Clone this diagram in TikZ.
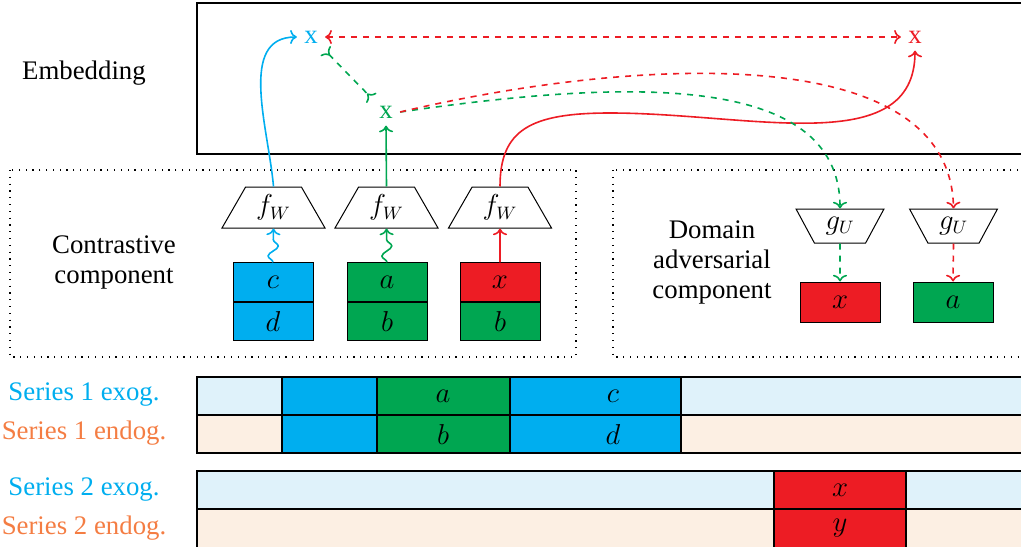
\documentclass[tikz,border=0pt]{standalone}
\usepackage{fontspec}
\setmainfont{Liberation Serif}
\newfontfamily\labelfont{Liberation Serif}
\usetikzlibrary{shapes.geometric,decorations.pathmorphing,arrows.meta}

\definecolor{cyanB}{HTML}{00AEEF}
\definecolor{greenB}{HTML}{00A651}
\definecolor{redB}{HTML}{ED1C24}
\definecolor{orangeT}{HTML}{F47D43}
\definecolor{exoBg}{HTML}{DFF2FA}
\definecolor{endoBg}{HTML}{FCEFE3}

\begin{document}
\begin{tikzpicture}[x=0.5pt, y=-0.5pt, >=To, thick,
  font=\labelfont\fontsize{13.4}{15}\selectfont,
  cellbox/.style={draw, line width=0.5pt, inner sep=0pt, minimum width=40pt, minimum height=19.25pt},
  encoder/.style={draw, line width=0.5pt, trapezium, trapezium left angle=60, trapezium right angle=60,
    trapezium stretches=true, minimum width=51.5pt, minimum height=20.5pt, inner sep=0pt},
  decoder/.style={encoder, shape border rotate=180, minimum width=44pt, minimum height=17pt},
  wavy/.style={decorate, decoration={snake, amplitude=2.5pt, segment length=10pt, post length=3pt}},
  region/.style={dash pattern=on 0.6pt off 2.8pt, line width=0.6pt}]

\useasboundingbox (0,0) rectangle (1021,546);
\clip (0,0) rectangle (1021,546);

% Embedding space
\draw[line width=0.6pt] (197,3) rectangle (1040,154);
\node (lblEmb) at (84,73) {Embedding};
\node[text=cyanB] (xc) at (311,37) {x};
\node[text=redB] (xr) at (915,37) {x};
\node[text=greenB] (xg) at (386,112) {x};

% the two components
\draw[region] (10,170) rectangle (576,357);
\draw[region] (613,170) rectangle (1040,357);
\node[align=center] (lblCon) at (114,262) {Contrastive\\component};
\node[align=center] (lblDom) at (712,262) {Domain\\adversarial\\component};

% encoders and their inputs
\node[encoder] (fw1) at (273.5,207.5) {$f_W$};
\node[encoder] (fw2) at (386.5,207.5) {$f_W$};
\node[encoder] (fw3) at (500,207.5) {$f_W$};

\node[cellbox, fill=cyanB] (c1) at (273,282) {$c$};
\node[cellbox, fill=cyanB, anchor=north] (d1) at (c1.south) {$d$};
\node[cellbox, fill=greenB] (a2) at (387,282) {$a$};
\node[cellbox, fill=greenB, anchor=north] (b2) at (a2.south) {$b$};
\node[cellbox, fill=redB] (x3) at (500,282) {$x$};
\node[cellbox, fill=greenB, anchor=north] (b3) at (x3.south) {$b$};

% discriminators
\node[decoder] (gu1) at (840,226) {$g_U$};
\node[decoder] (gu2) at (953.5,226) {$g_U$};
\node[cellbox, fill=redB, minimum height=20pt] (outX) at (840,302) {$x$};
\node[cellbox, fill=greenB, minimum height=20pt] (outA) at (953,302) {$a$};

\draw[cyanB, ->, wavy] (c1.north) -- (fw1.south);
\draw[greenB, ->, wavy] (a2.north) -- (fw2.south);
\draw[redB, ->] (x3.north) -- (fw3.south);

\draw[cyanB, ->] (fw1.north) to[out=95, in=180] (xc.west);
\draw[greenB, ->] (fw2.north) -- (xg.south);
\draw[redB, ->] (fw3.north) .. controls (500,130) and (530,113) .. (610,113)
  .. controls (750,113) and (915,160) .. (xr.south);

\draw[redB, dashed, <->] (xc.east) -- (xr.west);
\draw[greenB, dashed, >-<] (xc.south east) -- (xg.north west);
\draw[greenB, dashed, ->] (xg.east) .. controls (620,80) and (840,70) .. (gu1.north);
\draw[redB, dashed, ->] (xg.east) .. controls (620,60) and (950,35) .. (gu2.north);
\draw[greenB, dashed, ->] (gu1.south) -- (outX.north);
\draw[redB, dashed, ->] (gu2.south) -- (outA.north);

% time series
\node[text=cyanB] (s1x) at (84,395) {Series 1 exog.};
\node[text=orangeT] (s1n) at (84,433) {Series 1 endog.};
\node[text=cyanB] (s2x) at (84,490) {Series 2 exog.};
\node[text=orangeT] (s2n) at (84,528) {Series 2 endog.};

\fill[exoBg] (197,377) rectangle (1040,415);
\fill[endoBg] (197,415) rectangle (1040,453);
\fill[cyanB] (282,377) rectangle (377,453);
\fill[greenB] (377,377) rectangle (510,453);
\fill[cyanB] (510,377) rectangle (681,453);
\draw[line width=0.6pt] (197,377) rectangle (1040,453) (197,415) -- (1040,415);
\foreach \xs in {282,377,510,681}
  \draw[line width=0.6pt] (\xs,377) -- (\xs,453);
\node (sa) at (443,396) {$a$};
\node (sb) at (443,434) {$b$};
\node (sc) at (613,396) {$c$};
\node (sd) at (613,434) {$d$};

\fill[exoBg] (197,471) rectangle (1040,509);
\fill[endoBg] (197,509) rectangle (1040,570);
\fill[redB] (774,471) rectangle (906,570);
\draw[line width=0.6pt] (197,471) rectangle (1040,570) (197,509) -- (1040,509);
\draw[line width=0.6pt] (774,471) -- (774,570) (906,471) -- (906,570);
\node (sx) at (840,490) {$x$};
\node (sy) at (840,528) {$y$};
\end{tikzpicture}
\end{document}
